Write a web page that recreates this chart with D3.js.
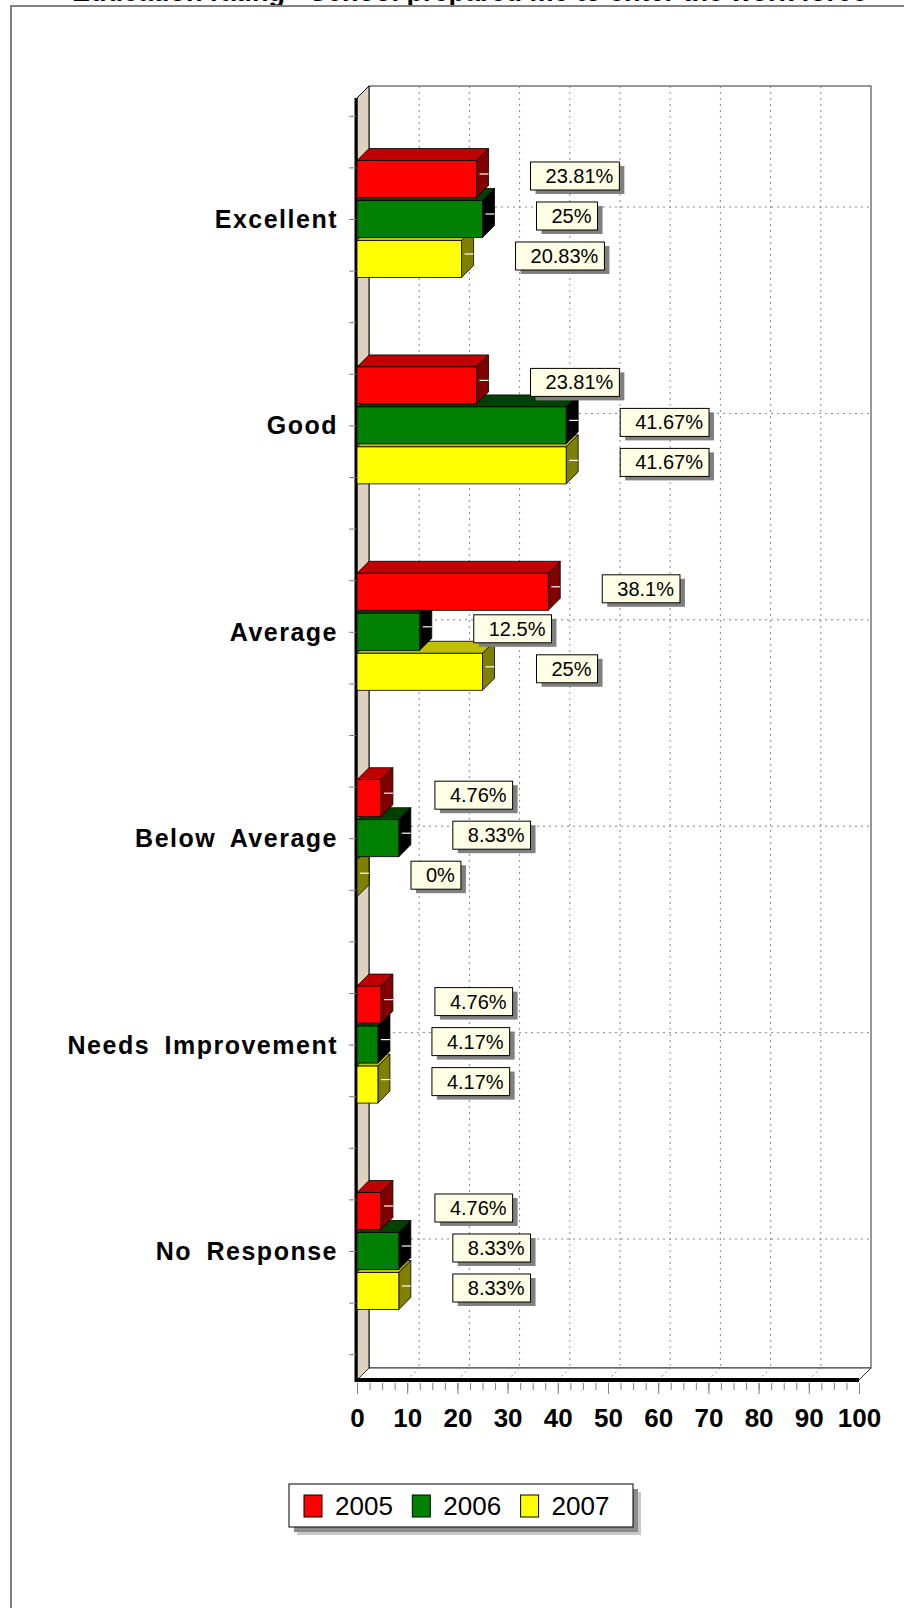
<!DOCTYPE html>
<html>
<head>
<meta charset="utf-8">
<script src="https://cdn.jsdelivr.net/npm/d3@7"></script>
<style>
  body { margin: 0; background: #fff; }
  svg { display: block; font-family: "Liberation Sans", Arial, sans-serif; }
</style>
</head>
<body>
<div class="container"></div>
<script>
const w = 904;
const h = 1608;

// chart data
const title = 'Education rating - School prepared me to enter the work force';
const categories = ['Excellent', 'Good', 'Average', 'Below Average', 'Needs Improvement', 'No Response'];
const years = ['2005', '2006', '2007'];
const v2005 = [23.81, 23.81, 38.1, 4.76, 4.76, 4.76];
const v2006 = [25, 41.67, 12.5, 8.33, 4.17, 8.33];
const v2007 = [20.83, 41.67, 25, 0, 4.17, 8.33];
const xTickValues = [0, 10, 20, 30, 40, 50, 60, 70, 80, 90, 100];

const series = [v2005, v2006, v2007];
const front = { 2005: '#ff0000', 2006: '#008000', 2007: '#ffff00' };
const topFace = { 2005: '#c00000', 2006: '#004000', 2007: '#c0c000' };
const sideFace = { 2005: '#800000', 2006: '#000000', 2007: '#808000' };

const d = 12; // 3d depth
const plotTop = 98;
const plotBottom = 1380;

const xScale = d3.scaleLinear().domain([0, 100]).range([357, 859]);
const yScale = d3.scaleBand().domain(categories).range([115.8, 1354.2]);
const yInner = d3.scaleBand().domain(years).range([-58.5, 58.5]).paddingInner(0.075);
const yTicks = d3.scaleLinear().domain([0, 24]).range([115.8, 1354.2]);

const svg = d3.select('.container')
  .append('svg')
  .attr('width', w)
  .attr('height', h);

svg.append('rect').attr('width', w).attr('height', h).attr('fill', '#fff');

// title (cut off at the top edge, as in the original)
svg.append('text')
  .attr('x', 72)
  .attr('y', 0.5)
  .attr('font-size', 27)
  .attr('font-weight', 'bold')
  .text(title);

// outer frame
svg.append('rect')
  .attr('x', 11).attr('y', 6)
  .attr('width', 1000).attr('height', 1700)
  .attr('fill', 'none')
  .attr('stroke', '#808080')
  .attr('stroke-width', 2);

// back wall
svg.append('rect')
  .attr('x', xScale(0) + d).attr('y', plotTop - d)
  .attr('width', xScale(100) - xScale(0)).attr('height', plotBottom - plotTop)
  .attr('fill', '#fff')
  .attr('stroke', '#333');

// vertical grid on back wall
svg.selectAll('.vgrid')
  .data(xTickValues.slice(1, -1))
  .enter()
  .append('line')
  .attr('x1', (v) => xScale(v) + d).attr('x2', (v) => xScale(v) + d)
  .attr('y1', plotTop - d).attr('y2', plotBottom - d)
  .attr('stroke', '#888')
  .attr('stroke-dasharray', '2,4');

// horizontal grid on back wall
svg.selectAll('.hgrid')
  .data(categories)
  .enter()
  .append('line')
  .attr('x1', xScale(0) + d).attr('x2', xScale(100) + d)
  .attr('y1', (c) => yScale(c) + yScale.bandwidth() / 2 - d)
  .attr('y2', (c) => yScale(c) + yScale.bandwidth() / 2 - d)
  .attr('stroke', '#888')
  .attr('stroke-dasharray', '2,4');

// left wall
svg.append('polygon')
  .attr('points', [[xScale(0), plotTop], [xScale(0) + d, plotTop - d], [xScale(0) + d, plotBottom - d], [xScale(0), plotBottom]].join(' '))
  .attr('fill', '#ddd2be')
  .attr('stroke', '#000');

// floor
svg.append('polygon')
  .attr('points', [[xScale(0), plotBottom], [xScale(100), plotBottom], [xScale(100) + d, plotBottom - d], [xScale(0) + d, plotBottom - d]].join(' '))
  .attr('fill', '#fff')
  .attr('stroke', '#333');

svg.selectAll('.fgrid')
  .data(xTickValues.slice(1, -1))
  .enter()
  .append('line')
  .attr('x1', (v) => xScale(v) + d).attr('x2', (v) => xScale(v))
  .attr('y1', plotBottom - d).attr('y2', plotBottom)
  .attr('stroke', '#888')
  .attr('stroke-dasharray', '2,3');

// thick front edges
svg.append('line')
  .attr('x1', xScale(0) - 1).attr('x2', xScale(0) - 1)
  .attr('y1', plotTop).attr('y2', plotBottom + 2)
  .attr('stroke', '#000').attr('stroke-width', 3);
svg.append('line')
  .attr('x1', xScale(0) - 2).attr('x2', xScale(100))
  .attr('y1', plotBottom).attr('y2', plotBottom)
  .attr('stroke', '#000').attr('stroke-width', 4);

// bars, drawn bottom bar first so upper bars cover the lower top faces
const rows = [];
categories.forEach((c, i) => {
  years.forEach((yr, j) => {
    rows.push({ cat: c, year: yr, value: series[j][i], j: j });
  });
});
rows.sort((a, b) => b.j - a.j);

const bars = svg.selectAll('.bar')
  .data(rows)
  .enter()
  .append('g')
  .attr('class', 'bar');

const barTop = (r) => yScale(r.cat) + yScale.bandwidth() / 2 + yInner(r.year);
const bh = yInner.bandwidth();

bars.append('polygon')
  .attr('points', (r) => {
    const x0 = xScale(0), x1 = xScale(r.value), t = barTop(r);
    return [[x0, t], [x1, t], [x1 + d, t - d], [x0 + d, t - d]].join(' ');
  })
  .attr('fill', (r) => topFace[r.year])
  .attr('stroke', '#000')
  .attr('stroke-width', 0.8);

bars.append('polygon')
  .attr('points', (r) => {
    const x1 = xScale(r.value), t = barTop(r);
    return [[x1, t], [x1 + d, t - d], [x1 + d, t + bh - d], [x1, t + bh]].join(' ');
  })
  .attr('fill', (r) => sideFace[r.year])
  .attr('stroke', '#000')
  .attr('stroke-width', 0.8);

bars.filter((r) => r.value > 0)
  .append('rect')
  .attr('x', xScale(0))
  .attr('y', (r) => barTop(r))
  .attr('width', (r) => xScale(r.value) - xScale(0))
  .attr('height', bh)
  .attr('fill', (r) => front[r.year])
  .attr('stroke', '#000')
  .attr('stroke-width', 0.8);

bars.append('line')
  .attr('x1', (r) => xScale(r.value) + 3)
  .attr('x2', (r) => xScale(r.value) + d)
  .attr('y1', (r) => barTop(r) + bh / 2 - 5)
  .attr('y2', (r) => barTop(r) + bh / 2 - 5)
  .attr('stroke', '#fff')
  .attr('stroke-width', 1.2);

// y axis ticks
svg.append('g')
  .attr('transform', 'translate(' + (xScale(0) - 1) + ',0)')
  .call(d3.axisLeft(yTicks).tickValues(d3.range(0, 25)).tickSize(7).tickFormat(''))
  .call((g) => g.select('.domain').remove())
  .call((g) => g.selectAll('line').attr('stroke', '#808080'));

// category labels
svg.selectAll('.cat')
  .data(categories)
  .enter()
  .append('text')
  .attr('x', 338)
  .attr('y', (c) => yScale(c) + yScale.bandwidth() / 2 + 9)
  .attr('text-anchor', 'end')
  .attr('font-size', 25)
  .attr('font-weight', 'bold')
  .attr('letter-spacing', 1.5)
  .attr('word-spacing', 6)
  .text((c) => c);

// x axis
svg.append('g')
  .attr('transform', 'translate(0,' + (plotBottom + 3) + ')')
  .call(d3.axisBottom(xScale).tickValues(d3.range(0, 101, 2.5)).tickSize(7).tickFormat(''))
  .call((g) => g.select('.domain').remove())
  .call((g) => g.selectAll('line').attr('stroke', '#808080'));

svg.append('g')
  .attr('transform', 'translate(0,' + (plotBottom + 3) + ')')
  .call(d3.axisBottom(xScale).tickValues(xTickValues).tickSize(11))
  .call((g) => g.select('.domain').remove())
  .call((g) => g.selectAll('line').attr('stroke', '#808080'))
  .call((g) => g.selectAll('text')
    .attr('y', 26)
    .attr('fill', '#000')
    .attr('font-size', 26)
    .attr('font-weight', 'bold')
    .attr('font-family', '"Liberation Sans", Arial, sans-serif'));

// data labels
const labels = svg.selectAll('.lbl')
  .data(rows)
  .enter()
  .append('g')
  .attr('class', 'lbl')
  .attr('transform', (r) => 'translate(' + (xScale(r.value) + 54) + ',' + (barTop(r) + bh / 2 - 17) + ')');

labels.each(function (r) {
  const g = d3.select(this);
  const shadow = g.append('rect');
  const box = g.append('rect');
  const t = g.append('text')
    .attr('x', 15)
    .attr('y', 21)
    .attr('font-size', 20)
    .text(r.value + '%');
  const tw = t.node().getComputedTextLength();
  shadow.attr('x', 5).attr('y', 4).attr('width', tw + 21).attr('height', 28).attr('fill', '#808080');
  box.attr('width', tw + 21).attr('height', 28).attr('fill', '#ffffe6').attr('stroke', '#000');
});

// legend
const legend = svg.append('g').attr('transform', 'translate(289,1484)');
legend.append('rect').attr('x', 8).attr('y', 8).attr('width', 344).attr('height', 43).attr('fill', '#c8c8c8');
legend.append('rect').attr('x', 5).attr('y', 5).attr('width', 344).attr('height', 43).attr('fill', '#8c8c8c');
legend.append('rect').attr('width', 344).attr('height', 43).attr('fill', '#fff').attr('stroke', '#000');

const items = legend.selectAll('.item')
  .data(years)
  .enter()
  .append('g')
  .attr('class', 'item')
  .attr('transform', (yr, i) => 'translate(' + (15 + i * 108.3) + ',0)');
items.append('rect')
  .attr('y', 11)
  .attr('width', 18)
  .attr('height', 22)
  .attr('fill', (yr) => front[yr])
  .attr('stroke', '#000');
items.append('text')
  .attr('x', 31)
  .attr('y', 31)
  .attr('font-size', 26)
  .text((yr) => yr);
</script>
</body>
</html>
